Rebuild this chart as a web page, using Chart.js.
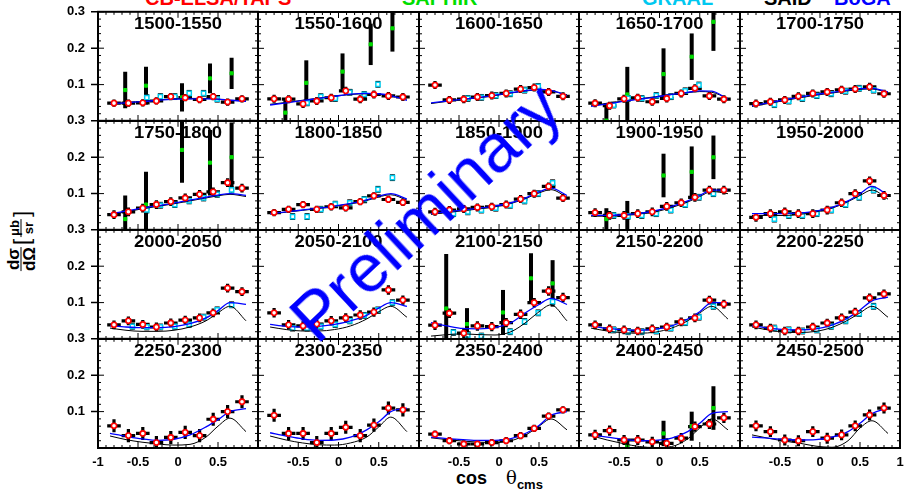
<!DOCTYPE html>
<html>
<head>
<meta charset="utf-8">
<script src="https://cdn.jsdelivr.net/npm/chart.js@4.4.1/dist/chart.umd.min.js"></script>
<style>
  body { margin: 0; background: #fff; width: 904px; height: 489px; position: relative; overflow: hidden;
         font-family: "Liberation Sans", Arial, sans-serif; }
  canvas.pan { position: absolute; }
  .leg { position: absolute; top: -12px; font-size: 20px; line-height: 20px; font-weight: bold; white-space: nowrap; }
  #ytitle { position: absolute; left: 21px; top: 242px; transform: translate(-50%, -50%) rotate(-90deg);
            font-weight: bold; font-size: 17px; white-space: nowrap; display: flex; align-items: center; }
  .frac { display: inline-flex; flex-direction: column; align-items: center; line-height: 15px; margin: 0 2px; }
  .frac span:first-child { border-bottom: 1.5px solid #000; padding: 0 1px; }
  .frac.sm { font-size: 13px; line-height: 13px; }
  .br { font-size: 22px; font-weight: normal; }
  #xtitle { position: absolute; left: 456px; top: 467px; font-weight: bold; font-size: 18px; white-space: nowrap; }
  #xtitle .th { font-weight: normal; font-size: 18px; margin-left: 14px; font-family: "DejaVu Serif", serif; }
  #xtitle sub { font-size: 13px; }
  #prelim { position: absolute; left: 425px; top: 212px; transform: translate(-50%, -50%) rotate(-43deg);
            color: #0000ff; font-size: 68px; white-space: nowrap; z-index: 10; }
</style>
</head>
<body>
<div class="leg" style="left:145px;color:#ff0000">CB-ELSA/TAPS</div>
<div class="leg" style="left:402px;color:#00dd00">SAPHIR</div>
<div class="leg" style="left:642px;color:#00c8f0">GRAAL</div>
<div class="leg" style="left:764px;color:#000">SAID</div>
<div class="leg" style="left:834px;color:#0000ff">BoGA</div>
<div id="ytitle"><span class="frac"><span>dσ</span><span>dΩ</span></span><span class="br">[</span><span class="frac sm"><span>μb</span><span>sr</span></span><span class="br">]</span></div>
<div id="xtitle">cos <span class="th">θ</span><sub>cms</sub></div>
<div id="prelim">Preliminary</div>
<script>
// energy bins (MeV), one panel each
const ranges = ['1500-1550', '1550-1600', '1600-1650', '1650-1700', '1700-1750',
                '1750-1800', '1800-1850', '1850-1900', '1900-1950', '1950-2000',
                '2000-2050', '2050-2100', '2100-2150', '2150-2200', '2200-2250',
                '2250-2300', '2300-2350', '2350-2400', '2400-2450', '2450-2500'];

// CB-ELSA/TAPS
const cbCos = [-0.8, -0.62, -0.44, -0.27, -0.09, 0.09, 0.27, 0.44, 0.62, 0.8];
const cbVal = [
  [0.049, 0.049, 0.050, 0.055, 0.067, 0.064, 0.059, 0.067, 0.052, 0.061],
  [0.061, 0.060, 0.047, 0.055, 0.064, 0.083, 0.060, 0.073, 0.069, 0.066],
  [0.099, 0.058, 0.060, 0.066, 0.070, 0.076, 0.088, 0.092, 0.080, 0.068],
  [0.049, 0.042, 0.061, 0.064, 0.053, 0.062, 0.076, 0.090, 0.069, 0.060],
  [0.048, 0.053, 0.058, 0.068, 0.076, 0.080, 0.086, 0.088, 0.094, 0.075],
  [0.042, 0.050, 0.060, 0.070, 0.078, 0.088, 0.098, 0.105, 0.130, 0.115],
  [0.048, 0.057, 0.070, 0.057, 0.064, 0.061, 0.078, 0.094, 0.084, 0.076],
  [0.050, 0.055, 0.058, 0.062, 0.064, 0.070, 0.085, 0.100, 0.120, 0.088],
  [0.048, 0.040, 0.040, 0.045, 0.050, 0.065, 0.075, 0.090, 0.110, 0.110],
  [0.035, 0.045, 0.050, 0.045, 0.045, 0.055, 0.075, 0.100, 0.135, 0.095],
  [0.039, 0.050, 0.040, 0.033, 0.044, 0.052, 0.058, 0.072, 0.140, 0.130],
  [0.072, 0.039, 0.036, 0.041, 0.050, 0.058, 0.066, 0.074, 0.135, 0.107],
  [0.038, 0.071, 0.016, 0.036, 0.034, 0.045, 0.068, 0.100, 0.132, 0.114],
  [0.039, 0.028, 0.025, 0.022, 0.028, 0.033, 0.047, 0.058, 0.107, 0.096],
  [0.039, 0.030, 0.022, 0.022, 0.033, 0.044, 0.058, 0.074, 0.113, 0.124],
  [0.061, 0.034, 0.040, 0.015, 0.029, 0.043, 0.034, 0.079, 0.100, 0.127],
  [0.090, 0.040, 0.040, 0.015, 0.040, 0.057, 0.034, 0.063, 0.110, 0.105],
  [0.038, 0.020, 0.011, 0.011, 0.015, 0.020, 0.034, 0.054, 0.088, 0.105],
  [0.036, 0.048, 0.022, 0.022, 0.017, 0.013, 0.027, 0.059, 0.066, 0.083],
  [0.061, 0.045, 0.022, 0.020, 0.045, 0.027, 0.036, 0.061, 0.091, 0.110]
];
const cbErr = [0.010, 0.011, 0.011, 0.011, 0.011, 0.012, 0.010, 0.011, 0.012, 0.012,
               0.012, 0.013, 0.013, 0.012, 0.012, 0.018, 0.018, 0.010, 0.014, 0.015];

// SAPHIR
const saphirCos = [-0.66, -0.4, 0.05, 0.4, 0.67];
const saphirVal = [
  [0.085, 0.097, 0.065, 0.117, 0.131], [0.023, 0.105, 0.136, 0.211, 0.255], null,
  [0.001, 0.073, 0.129, 0.177, 0.273], null,
  [0.030, 0.070, 0.220, 0.185, 0.200], null, null,
  [0.030, 0.040, 0.150, 0.160, 0.200], null,
  null, null, [0.084, 0.041, 0.073, 0.167, 0.153], null, null,
  null, null, null, [null, 0.005, 0.040, 0.060, 0.110], null
];
const saphirErr = [
  [0.050, 0.052, 0.039, 0.041, 0.043], [0.035, 0.062, 0.050, 0.057, 0.064], null,
  [0.048, 0.076, 0.071, 0.064, 0.080], null,
  [0.065, 0.090, 0.090, 0.090, 0.095], null, null,
  [0.030, 0.040, 0.060, 0.070, 0.060], null,
  null, null, [0.150, 0.044, 0.062, 0.069, 0.064], null, null,
  null, null, null, [0, 0.015, 0.035, 0.040, 0.060], null
];

// GRAAL
const graalCos = [-0.57, -0.39, -0.22, -0.04, 0.14, 0.32, 0.49, 0.67];
const graalVal = [
  [null, 0.064, 0.067, 0.067, 0.076, 0.076, 0.060, null],
  [null, 0.050, 0.067, 0.062, 0.079, 0.073, 0.101, null],
  [null, 0.062, 0.065, 0.070, 0.075, 0.085, 0.095, null],
  [0.044, 0.062, 0.062, 0.070, 0.067, 0.083, 0.099, null],
  [0.045, 0.055, 0.062, 0.070, 0.075, 0.082, 0.090, 0.085],
  [null, 0.055, 0.068, 0.070, 0.080, 0.088, 0.098, 0.110],
  [0.037, 0.037, 0.057, 0.071, 0.075, 0.084, 0.112, 0.144],
  [0.045, 0.050, 0.055, 0.060, 0.068, 0.080, 0.100, 0.130],
  [0.040, 0.038, 0.040, 0.045, 0.055, 0.070, 0.090, 0.100],
  [0.030, 0.040, 0.040, 0.045, 0.055, 0.070, 0.090, 0.110],
  [0.035, 0.033, 0.033, 0.035, 0.040, 0.060, 0.080, 0.094],
  [0.030, 0.030, 0.035, 0.040, 0.050, 0.065, 0.080, 0.100],
  [0.018, 0.011, 0.008, null, 0.020, 0.048, 0.072, 0.103],
  [0.025, 0.020, 0.020, 0.022, 0.030, 0.045, 0.060, 0.090],
  [0.030, 0.025, 0.022, 0.025, 0.035, 0.050, 0.070, 0.090],
  null, null, null, null, null
];
const graalErr = 0.008;

// BoGA and SAID curves
const curveCos = [-0.85, -0.65, -0.45, -0.25, -0.05, 0.15, 0.35, 0.5, 0.65, 0.85];
const bogaVal = [
  [0.048, 0.050, 0.053, 0.057, 0.060, 0.061, 0.061, 0.060, 0.057, 0.054],
  [0.044, 0.050, 0.056, 0.062, 0.068, 0.074, 0.076, 0.075, 0.070, 0.057],
  [0.050, 0.055, 0.060, 0.065, 0.071, 0.078, 0.084, 0.087, 0.084, 0.070],
  [0.040, 0.047, 0.054, 0.060, 0.066, 0.073, 0.079, 0.083, 0.082, 0.060],
  [0.042, 0.050, 0.058, 0.066, 0.073, 0.079, 0.085, 0.089, 0.090, 0.080],
  [0.045, 0.052, 0.060, 0.067, 0.074, 0.082, 0.090, 0.096, 0.100, 0.095],
  [0.045, 0.050, 0.055, 0.060, 0.066, 0.073, 0.083, 0.093, 0.100, 0.085],
  [0.045, 0.050, 0.055, 0.060, 0.066, 0.075, 0.090, 0.105, 0.115, 0.095],
  [0.040, 0.040, 0.042, 0.046, 0.053, 0.065, 0.080, 0.095, 0.110, 0.110],
  [0.045, 0.045, 0.045, 0.047, 0.052, 0.062, 0.080, 0.100, 0.120, 0.095],
  [0.037, 0.033, 0.031, 0.031, 0.034, 0.042, 0.058, 0.078, 0.100, 0.095],
  [0.040, 0.035, 0.033, 0.035, 0.040, 0.050, 0.065, 0.085, 0.100, 0.090],
  [0.045, 0.036, 0.029, 0.028, 0.031, 0.045, 0.075, 0.095, 0.112, 0.095],
  [0.036, 0.029, 0.025, 0.024, 0.027, 0.036, 0.055, 0.075, 0.100, 0.100],
  [0.037, 0.030, 0.026, 0.025, 0.028, 0.038, 0.058, 0.080, 0.105, 0.115],
  [0.040, 0.032, 0.025, 0.021, 0.024, 0.036, 0.058, 0.078, 0.100, 0.108],
  [0.042, 0.033, 0.025, 0.021, 0.022, 0.030, 0.050, 0.072, 0.100, 0.110],
  [0.030, 0.026, 0.023, 0.021, 0.021, 0.026, 0.042, 0.062, 0.090, 0.100],
  [0.036, 0.030, 0.024, 0.020, 0.021, 0.027, 0.045, 0.068, 0.095, 0.100],
  [0.030, 0.027, 0.024, 0.022, 0.023, 0.030, 0.045, 0.068, 0.095, 0.110]
];
const saidVal = [
  [0.047, 0.050, 0.054, 0.058, 0.061, 0.062, 0.062, 0.060, 0.057, 0.055],
  [0.046, 0.051, 0.057, 0.063, 0.068, 0.073, 0.075, 0.074, 0.069, 0.060],
  [0.048, 0.054, 0.059, 0.064, 0.070, 0.077, 0.083, 0.086, 0.083, 0.072],
  [0.042, 0.049, 0.055, 0.061, 0.067, 0.073, 0.078, 0.081, 0.079, 0.062],
  [0.040, 0.048, 0.056, 0.064, 0.071, 0.077, 0.083, 0.087, 0.088, 0.078],
  [0.043, 0.050, 0.058, 0.065, 0.072, 0.080, 0.088, 0.094, 0.098, 0.092],
  [0.044, 0.049, 0.054, 0.059, 0.065, 0.072, 0.081, 0.091, 0.097, 0.082],
  [0.043, 0.048, 0.053, 0.058, 0.064, 0.073, 0.088, 0.102, 0.111, 0.090],
  [0.038, 0.038, 0.040, 0.044, 0.050, 0.062, 0.077, 0.092, 0.106, 0.100],
  [0.040, 0.040, 0.040, 0.043, 0.050, 0.060, 0.078, 0.095, 0.110, 0.085],
  [0.030, 0.024, 0.021, 0.021, 0.024, 0.033, 0.050, 0.072, 0.090, 0.050],
  [0.033, 0.026, 0.022, 0.022, 0.026, 0.036, 0.055, 0.075, 0.090, 0.060],
  [0.008, 0.012, 0.014, 0.012, 0.011, 0.020, 0.048, 0.075, 0.094, 0.050],
  [0.030, 0.022, 0.017, 0.016, 0.019, 0.030, 0.050, 0.072, 0.090, 0.055],
  [0.033, 0.025, 0.019, 0.018, 0.021, 0.032, 0.052, 0.072, 0.090, 0.060],
  [0.033, 0.023, 0.016, 0.011, 0.008, 0.010, 0.030, 0.060, 0.082, 0.045],
  [0.033, 0.022, 0.014, 0.009, 0.008, 0.014, 0.030, 0.058, 0.085, 0.045],
  [0.028, 0.023, 0.019, 0.016, 0.015, 0.020, 0.038, 0.060, 0.080, 0.050],
  [0.034, 0.022, 0.012, 0.004, 0.001, 0.004, 0.025, 0.055, 0.080, 0.050],
  [0.036, 0.027, 0.019, 0.013, 0.005, 0.002, 0.020, 0.055, 0.075, 0.040]
];

// panel grid (page pixels)
const colEdges = [98, 258, 419, 579, 740, 900];
const rowEdges = [12, 121, 230, 339, 448];
const ML = 60, MR = 14, MT = 14, MB = 30;
const tickFont = { family: 'Liberation Sans', weight: 'bold', size: 13 };

// error bars, drawn under the markers
const errorBars = {
  id: 'errorBars',
  beforeDatasetsDraw(chart) {
    const { ctx, chartArea: a, scales: { x, y } } = chart;
    ctx.save();
    ctx.beginPath();
    ctx.rect(a.left, a.top, a.right - a.left, a.bottom - a.top);
    ctx.clip();
    ctx.strokeStyle = '#000';
    chart.data.datasets.forEach(ds => {
      if (!ds.errWidth) return;
      ctx.lineWidth = ds.errWidth;
      ds.data.forEach(p => {
        if (p.y == null) return;
        const px = x.getPixelForValue(p.x), py = y.getPixelForValue(p.y);
        ctx.beginPath();
        if (p.ey) {
          const y1 = y.getPixelForValue(p.y - p.ey), y2 = y.getPixelForValue(p.y + p.ey);
          ctx.moveTo(px, y1); ctx.lineTo(px, y2);
          if (ds.cap) {
            ctx.moveTo(px - ds.cap, y1); ctx.lineTo(px + ds.cap, y1);
            ctx.moveTo(px - ds.cap, y2); ctx.lineTo(px + ds.cap, y2);
          }
        }
        if (p.ex) {
          ctx.moveTo(x.getPixelForValue(p.x - p.ex), py);
          ctx.lineTo(x.getPixelForValue(p.x + p.ex), py);
        }
        ctx.stroke();
      });
    });
    ctx.restore();
  }
};

// frame, ticks and bin label
const frame = {
  id: 'frame',
  afterDraw(chart, args, opts) {
    const { ctx, chartArea: a, scales: { x, y } } = chart;
    ctx.save();
    ctx.strokeStyle = '#000';
    ctx.lineWidth = 1;
    ctx.beginPath();
    for (let k = 0; k <= 15; k++) {
      const py = y.getPixelForValue(k * 0.02);
      const len = k % 5 === 0 ? 6 : 3;
      ctx.moveTo(a.left, py); ctx.lineTo(a.left + len, py);
      ctx.moveTo(a.right, py); ctx.lineTo(a.right - len, py);
    }
    for (let k = -10; k <= 10; k++) {
      const px = x.getPixelForValue(k * 0.1);
      const len = k % 5 === 0 ? 6 : 3;
      ctx.moveTo(px, a.bottom); ctx.lineTo(px, a.bottom - len);
      ctx.moveTo(px, a.top); ctx.lineTo(px, a.top + len);
    }
    ctx.stroke();
    if (opts.outer) {
      ctx.lineWidth = 1.5;
      ctx.beginPath();
      for (let k = 1; k <= 3; k++) {
        const py = y.getPixelForValue(k * 0.1);
        ctx.moveTo(a.left - 7, py); ctx.lineTo(a.left, py);
      }
      ctx.stroke();
    }
    ctx.lineWidth = 2;
    ctx.strokeRect(a.left, a.top, a.right - a.left, a.bottom - a.top);
    ctx.translate((a.left + a.right) / 2, a.top + 13);
    ctx.scale(1.15, 1);
    ctx.font = 'bold 16px "Liberation Sans"';
    ctx.fillStyle = '#000';
    ctx.textAlign = 'center';
    ctx.textBaseline = 'middle';
    ctx.fillText(opts.title, 0, 0);
    ctx.restore();
  }
};

ranges.forEach((title, i) => {
  const col = i % 5, row = Math.floor(i / 5);
  const pw = colEdges[col + 1] - colEdges[col];
  const ph = rowEdges[row + 1] - rowEdges[row];
  const cv = document.createElement('canvas');
  cv.className = 'pan';
  const w = pw + ML + MR, h = ph + MT + MB;
  cv.width = w; cv.height = h;
  document.body.insertBefore(cv, document.getElementById('prelim'));

  const datasets = [];
  datasets.push({
    label: 'CB-ELSA/TAPS',
    data: cbCos.map((c, k) => ({ x: c, y: cbVal[i][k], ex: 0.085, ey: cbErr[i] })),
    pointStyle: 'circle', pointRadius: 2.6, borderWidth: 1.6,
    borderColor: '#ff0000', backgroundColor: '#ffffff', errWidth: 3.2
  });
  datasets.push({
    label: 'BoGA', type: 'line',
    data: curveCos.map((c, k) => ({ x: c, y: bogaVal[i][k] })),
    borderColor: '#0000ff', borderWidth: 1.3, pointRadius: 0, fill: false,
    cubicInterpolationMode: 'monotone'
  });
  datasets.push({
    label: 'SAID', type: 'line',
    data: curveCos.map((c, k) => ({ x: c, y: saidVal[i][k] })),
    borderColor: '#000000', borderWidth: 1, pointRadius: 0, fill: false,
    cubicInterpolationMode: 'monotone'
  });
  if (graalVal[i]) {
    datasets.push({
      label: 'GRAAL',
      data: graalCos.map((c, k) => ({ x: c, y: graalVal[i][k], ey: graalErr })),
      pointStyle: 'rect', pointRadius: 3, borderWidth: 1.5,
      borderColor: '#00ccee', backgroundColor: '#ffffff', errWidth: 1, cap: 2.5
    });
  }
  if (saphirVal[i]) {
    datasets.push({
      label: 'SAPHIR',
      data: saphirCos.map((c, k) => ({ x: c, y: saphirVal[i][k], ey: saphirErr[i][k] })),
      pointStyle: 'rect', pointRadius: 2.2, borderWidth: 1,
      borderColor: '#00dd00', backgroundColor: '#00dd00', errWidth: 4
    });
  }

  const chart = new Chart(cv, {
    type: 'scatter',
    data: { datasets },
    options: {
      responsive: false,
      maintainAspectRatio: false,
      animation: false,
      events: [],
      layout: { padding: { left: 0, right: MR, top: MT, bottom: 0 }, autoPadding: false },
      plugins: { legend: { display: false }, tooltip: { enabled: false }, frame: { title, outer: col === 0 } },
      scales: {
        x: {
          type: 'linear', min: -1, max: 1,
          afterFit: s => { s.height = MB; },
          grid: { display: false, drawTicks: false },
          border: { display: false },
          ticks: {
            display: row === 3, stepSize: 0.5, padding: 7, autoSkip: false, maxRotation: 0,
            font: tickFont, color: '#000',
            callback: v => {
              const r = Math.round(v * 10) / 10;
              if (r === 1 && col !== 4) return '';
              if (r === -1 && col !== 0) return '';
              return String(r);
            }
          }
        },
        y: {
          min: 0, max: 0.3,
          afterFit: s => { s.width = ML; },
          grid: { display: false, drawTicks: false },
          border: { display: false },
          ticks: {
            display: col === 0, stepSize: 0.1, padding: 13, font: tickFont, color: '#000',
            callback: v => (v > 0.001 ? (Math.round(v * 10) / 10).toFixed(1) : '')
          }
        }
      }
    },
    plugins: [errorBars, frame]
  });

  // the layout may reserve extra room for labels: size the canvas so the plot area is exactly one cell
  const a = chart.chartArea;
  const nw = Math.round(w + pw - (a.right - a.left));
  const nh = Math.round(h + ph - (a.bottom - a.top));
  if (nw !== w || nh !== h) chart.resize(nw, nh);
  const b = chart.chartArea;
  cv.style.left = (colEdges[col] - Math.round(b.left)) + 'px';
  cv.style.top = (rowEdges[row] - Math.round(b.top)) + 'px';
});
</script>
</body>
</html>
